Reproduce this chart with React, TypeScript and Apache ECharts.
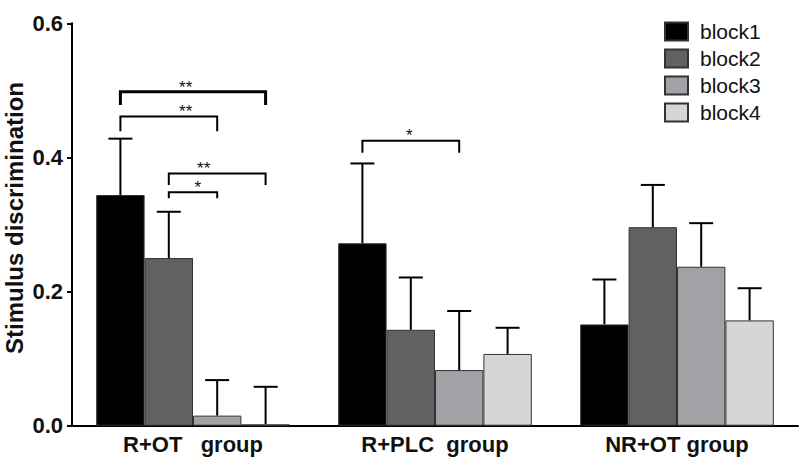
import React, { useEffect, useRef } from "react";
import * as echarts from "echarts";

const categories = ["R+OT   group", "R+PLC  group", "NR+OT group"];
const blockNames = ["block1", "block2", "block3", "block4"];
const block1 = [0.344, 0.272, 0.151];
const block2 = [0.25, 0.143, 0.296];
const block3 = [0.015, 0.083, 0.237];
const block4 = [0.002, 0.107, 0.157];
const block1Sem = [0.084, 0.119, 0.067];
const block2Sem = [0.069, 0.078, 0.063];
const block3Sem = [0.053, 0.088, 0.065];
const block4Sem = [0.056, 0.039, 0.048];
const yTicks = [0, 0.2, 0.4, 0.6];
const yTitle = "Stimulus discrimination";

// significance brackets
const bracketCat = [0, 0, 0, 0, 1];
const bracketFrom = [0, 0, 1, 1, 0];
const bracketTo = [3, 2, 3, 2, 2];
const bracketY = [0.498, 0.461, 0.376, 0.348, 0.425];
const bracketLeg = [0.478, 0.439, 0.359, 0.339, 0.407];
const bracketText = ["**", "**", "**", "*", "*"];
const bracketLabelAt = [1.35, 1.35, 1.72, 1.6, 0.97];

const blockValues = [block1, block2, block3, block4];
const blockSems = [block1Sem, block2Sem, block3Sem, block4Sem];
const blockColors = ["#000000", "#616161", "#a2a2a6", "#d6d6d6"];
const bracketWidths = [3, 2, 2, 2, 2];
const GAP = 0.2;

export default function App() {
  const ref = useRef<HTMLDivElement>(null);
  useEffect(() => {
    if (!ref.current) return;
    const chart = echarts.init(ref.current, null, { renderer: "svg" });
    const font = "Liberation Sans";

    const barX = (api: any, cat: number, j: number) => {
      const c = api.coord([cat, 0])[0];
      const band = api.size([1, 0])[0];
      const w = (band * (1 - GAP)) / 4;
      return c + (j - 1.5) * w;
    };

    const barSeries = blockNames.map((name, j) => ({
      type: "bar",
      name,
      data: blockValues[j],
      barGap: "0%",
      barCategoryGap: "20%",
      itemStyle: { color: blockColors[j], borderColor: "#333", borderWidth: 1 },
      z: 2,
    }));

    const errSeries = blockNames.map((name, j) => ({
      type: "custom",
      name: name + "-err",
      z: 1,
      clip: false,
      data: categories.map((_, i) => [i, blockValues[j][i], blockValues[j][i] + blockSems[j][i]]),
      renderItem: (params: any, api: any) => {
        const cat = api.value(0);
        const x = barX(api, cat, j);
        const y0 = api.coord([cat, api.value(1)])[1];
        const y1 = api.coord([cat, api.value(2)])[1];
        const style = { stroke: "#000", lineWidth: 2 };
        return {
          type: "group",
          children: [
            { type: "line", shape: { x1: x, y1: y0, x2: x, y2: y1 }, style },
            { type: "line", shape: { x1: x - 12, y1: y1, x2: x + 12, y2: y1 }, style },
          ],
        };
      },
    }));

    const bracketSeries = {
      type: "custom",
      name: "brackets",
      z: 3,
      clip: false,
      data: bracketCat.map((c, i) => [c, bracketFrom[i], bracketTo[i], bracketY[i], bracketLeg[i], bracketLabelAt[i], i]),
      renderItem: (params: any, api: any) => {
        const cat = api.value(0);
        const i = api.value(6);
        const xa = barX(api, cat, api.value(1));
        const xb = barX(api, cat, api.value(2));
        const yl = api.coord([cat, api.value(3)])[1];
        const yb = api.coord([cat, api.value(4)])[1];
        const xl = barX(api, cat, api.value(5));
        return {
          type: "group",
          children: [
            {
              type: "polyline",
              shape: { points: [[xa, yb], [xa, yl], [xb, yl], [xb, yb]] },
              style: { stroke: "#000", lineWidth: bracketWidths[i], fill: "none" },
            },
            {
              type: "text",
              style: {
                text: bracketText[i],
                x: xl,
                y: yl - 4.7,
                fill: "#111",
                font: `17px ${font}`,
                align: "center",
                verticalAlign: "middle",
              },
            },
          ],
        };
      },
    };

    chart.setOption({
      animation: false,
      grid: { left: 72, right: 2, top: 23.3, bottom: 35.3, containLabel: false, outerBoundsMode: "none" },
      legend: {
        data: blockNames,
        orient: "vertical",
        left: 664,
        top: 21,
        padding: 0,
        itemWidth: 23,
        itemHeight: 18,
        itemGap: 6,
        icon: "rect",
        textStyle: { fontSize: 21, fontFamily: font, color: "#111", padding: [0, 0, 0, 7] },
      },
      graphic: [
        {
          type: "text",
          x: 14.5,
          y: 218,
          rotation: Math.PI / 2,
          style: {
            text: yTitle,
            font: `bold 24px ${font}`,
            fill: "#111",
            align: "center",
            verticalAlign: "middle",
          },
        },
      ],
      xAxis: {
        type: "category",
        data: categories,
        axisLine: { lineStyle: { color: "#000", width: 2 } },
        axisTick: { alignWithLabel: true, length: 6, lineStyle: { color: "#000", width: 2 } },
        axisLabel: { fontSize: 22, fontWeight: "bold", fontFamily: font, color: "#111", margin: 8 },
      },
      yAxis: {
        type: "value",
        min: yTicks[0],
        max: yTicks[yTicks.length - 1],
        interval: 0.2,
        axisLine: { show: true, lineStyle: { color: "#000", width: 2 } },
        axisTick: { show: true, length: 5, lineStyle: { color: "#000", width: 2 } },
        splitLine: { show: false },
        axisLabel: {
          fontSize: 22,
          fontWeight: "bold",
          fontFamily: font,
          color: "#111",
          margin: 9,
          formatter: (v: number) => v.toFixed(1),
        },
      },
      series: [...barSeries, ...errSeries, bracketSeries],
    });
    return () => chart.dispose();
  }, []);
  return <div ref={ref} style={{ width: 800, height: 461, position: "absolute", left: 0, top: 0 }} />;
}
